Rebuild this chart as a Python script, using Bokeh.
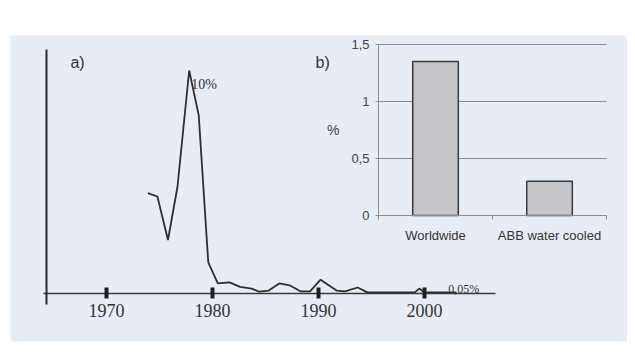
from bokeh.plotting import figure
from bokeh.models import Range1d, LinearAxis, FixedTicker, Label
from bokeh.core.properties import value
from bokeh.embed import file_html
from bokeh.resources import INLINE

# ---- panel a) data ----
years_a = [1973.9, 1974.8, 1975.8, 1976.7, 1977.8, 1978.7, 1979.6, 1980.5, 1981.6,
           1982.6, 1983.7, 1984.4, 1985.3, 1986.3, 1987.3, 1988.3, 1989.2, 1990.2,
           1991.7, 1992.5, 1993.7, 1994.6, 1995.8, 1999.1, 1999.5, 2000.0, 2003.0]
pct_a = [4.5, 4.35, 2.4, 4.8, 10.0, 8.0, 1.4, 0.45, 0.5,
         0.3, 0.22, 0.08, 0.13, 0.45, 0.36, 0.1, 0.1, 0.62,
         0.13, 0.1, 0.27, 0.05, 0.05, 0.05, 0.22, 0.05, 0.05]
decade_ticks = [1970, 1980, 1990, 2000]
peak_label = "10%"
end_label = "0,05%"

# ---- panel b) data ----
categories = ["Worldwide", "ABB water cooled"]
cat_pos = [0.5, 1.5]
bar_values = [1.35, 0.30]
b_ticks = [0, 0.5, 1, 1.5]
b_tick_labels = ["0", "0,5", "1", "1,5"]
b_cat_edges = [0, 1, 2]

SANS = "Liberation Sans"
SERIF = "Liberation Serif"

p = figure(width=627, height=352,
           x_range=Range1d(1960.943, 2019.151), y_range=Range1d(-2.152, 11.570),
           x_axis_type=None, y_axis_type=None,
           output_backend="svg", toolbar_location=None,
           min_border_left=10, min_border_right=0, min_border_top=35, min_border_bottom=11,
           background_fill_color="#e7edf6", border_fill_color="white",
           outline_line_color=None)
p.title.visible = False
p.extra_x_ranges = {"b": Range1d(-3.228, 2.184)}
p.extra_y_ranges = {"b": Range1d(-1.105, 1.579)}

# ---------------- panel a ----------------
ya = LinearAxis(fixed_location=1964.34, bounds=(-0.49, 10.94),
                ticker=FixedTicker(ticks=[]), axis_line_color="#2a2a2a", axis_line_width=2,
                major_tick_line_color=None, minor_tick_line_color=None,
                major_label_text_color=None)
p.add_layout(ya, "left")

xa = LinearAxis(fixed_location=0, bounds=(1964.06, 2006.7),
                ticker=FixedTicker(ticks=decade_ticks),
                axis_line_color="#3a3a3a", axis_line_width=1.5,
                major_tick_line_color="#1e1e1e", major_tick_line_width=4,
                major_tick_in=6, major_tick_out=5, minor_tick_line_color=None,
                major_label_text_font=SERIF, major_label_text_font_size="18px",
                major_label_text_color="#333333", major_label_standoff=5)
p.add_layout(xa, "below")

p.line(years_a, pct_a, line_color="#2e2e2e", line_width=1.8)

ipk = pct_a.index(max(pct_a))
p.text(x=[years_a[ipk]], y=[pct_a[ipk]], text=[peak_label], x_offset=2, y_offset=6,
       text_font=value(SERIF), text_font_size="14px", text_color="#333333",
       text_baseline="top", text_align="left")
p.text(x=[years_a[-1]], y=[pct_a[-1]], text=[end_label], x_offset=-8, y_offset=-3,
       text_font=value(SERIF), text_font_size="12px", text_color="#333333",
       text_baseline="alphabetic", text_align="left")

p.add_layout(Label(x=1966.6, y=10.72, text="a)", text_font=SANS, text_font_size="16px",
                   text_color="#333333", text_baseline="top"))
p.add_layout(Label(x=1989.72, y=10.72, text="b)", text_font=SANS, text_font_size="16px",
                   text_color="#333333", text_baseline="top"))

# ---------------- panel b ----------------
grid_y = [t for t in b_ticks if t > 0]
p.segment(x0=[b_cat_edges[0]] * len(grid_y), x1=[b_cat_edges[-1]] * len(grid_y),
          y0=grid_y, y1=grid_y, line_color="#8c8c8c", line_width=1,
          x_range_name="b", y_range_name="b")

p.vbar(x=cat_pos, top=bar_values, width=0.4, bottom=0,
       fill_color="#c4c4c9", line_color="#3a3a3a", line_width=1.5,
       x_range_name="b", y_range_name="b")

yb = LinearAxis(x_range_name="b", y_range_name="b", fixed_location=0,
                bounds=(b_ticks[0], b_ticks[-1]),
                ticker=FixedTicker(ticks=b_ticks),
                major_label_overrides=dict(zip(b_ticks, b_tick_labels)),
                axis_line_color="#8c8c8c", axis_line_width=1,
                major_tick_line_color="#8c8c8c", major_tick_in=0, major_tick_out=3,
                minor_tick_line_color=None,
                major_label_text_font=SANS, major_label_text_font_size="13px",
                major_label_text_color="#444444", major_label_standoff=6,
                axis_label="%", axis_label_orientation="horizontal",
                axis_label_text_font=SANS, axis_label_text_font_style="normal",
                axis_label_text_font_size="14px", axis_label_text_color="#444444",
                axis_label_standoff=9)
p.add_layout(yb, "left")

xb = LinearAxis(x_range_name="b", y_range_name="b", fixed_location=0,
                bounds=(b_cat_edges[0], b_cat_edges[-1]),
                ticker=FixedTicker(ticks=b_cat_edges),
                axis_line_color="#8c8c8c", axis_line_width=1,
                major_tick_line_color="#8c8c8c", major_tick_in=0, major_tick_out=4,
                minor_tick_line_color=None, major_label_text_color=None)
p.add_layout(xb, "below")

xb_lab = LinearAxis(x_range_name="b", y_range_name="b", fixed_location=0,
                    ticker=FixedTicker(ticks=cat_pos),
                    major_label_overrides=dict(zip(cat_pos, categories)),
                    axis_line_color=None, major_tick_line_color=None,
                    minor_tick_line_color=None,
                    major_label_text_font=SANS, major_label_text_font_size="13px",
                    major_label_text_color="#333333", major_label_standoff=6)
p.add_layout(xb_lab, "below")

open("out.html", "w").write(file_html(p, INLINE))
